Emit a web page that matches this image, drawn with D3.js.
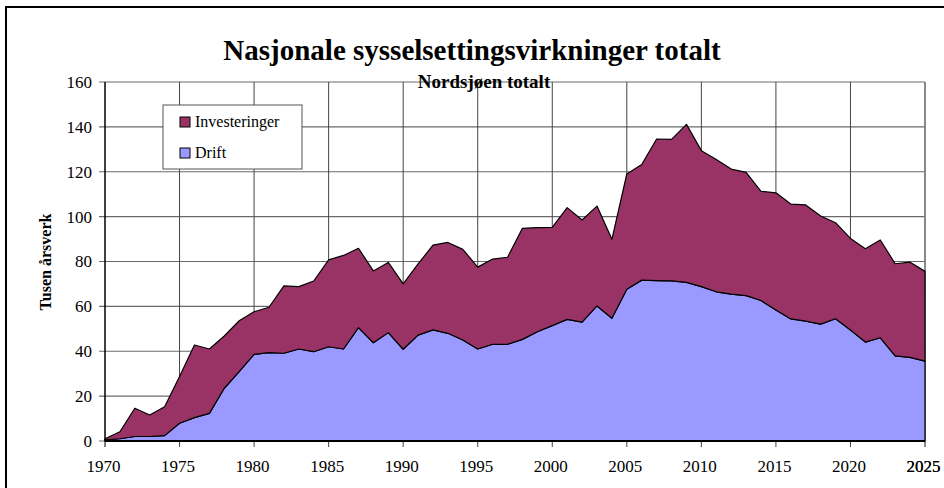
<!DOCTYPE html>
<html>
<head>
<meta charset="utf-8">
<script src="https://cdn.jsdelivr.net/npm/d3@7"></script>
<style>
  body { margin: 0; background: #fff; }
  svg { display: block; font-family: "Liberation Serif", "Times New Roman", serif; }
</style>
</head>
<body>
<svg width="944" height="488"></svg>
<script>
// values (tusen årsverk)
var years = d3.range(1970, 2026)
var drift = [0.5, 1, 2, 2, 2.4, 7.9, 10.4, 12.3, 23.5, 30.9,
    38.6, 39.4, 39.1, 41, 39.8, 42, 41, 50.5, 43.8, 48.3,
    40.9, 47.2, 49.5, 48, 45, 41, 43.1, 43.1, 45.3, 48.7,
    51.4, 54.2, 53, 60.2, 54.7, 67.6, 71.7, 71.5, 71.4, 70.7,
    68.8, 66.5, 65.5, 64.8, 62.6, 58.4, 54.4, 53.4, 52.1, 54.5,
    49.5, 44.1, 46, 37.9, 37.3, 35.6]
var investeringer = [0.5, 3.1, 12.6, 9.6, 12.9, 20.8, 32.4, 28.7, 23.3, 22.7,
    19, 20.2, 30, 27.8, 31.5, 38.7, 41.7, 35.4, 32, 31.3,
    29.1, 31.7, 37.8, 40.5, 40.4, 36.5, 38, 38.8, 49.5, 46.4,
    43.8, 49.8, 45.5, 44.5, 35.2, 51.4, 51.5, 63.1, 63, 70.4,
    60.6, 59, 55.7, 54.9, 48.7, 52.2, 51.2, 51.8, 48.2, 42.8,
    40.8, 41.6, 43.6, 41.1, 42.4, 40]
var seriesNames = ["Drift", "Investeringer"]
var seriesColors = {"Drift": "#9999ff", "Investeringer": "#993366"}
var yTicks = d3.range(0, 161, 20)
var xTicks = d3.range(1970, 2026, 5)

var svg = d3.select("svg")
var margin = {left: 105, right: 19, top: 82, bottom: 47}
var width = 944 - margin.left - margin.right,
    height = 488 - margin.top - margin.bottom

// outer frame (right and bottom edges fall at / past the picture edge)
svg.append("rect")
    .attr("x", 6).attr("y", 7)
    .attr("width", 939).attr("height", 492)
    .style("fill", "none").style("stroke", "#000").style("stroke-width", 2)

var x = d3.scaleLinear().domain([1970, 2025]).range([0, width])
var y = d3.scaleLinear().domain([0, 160]).range([height, 0])

var g = svg.append("g").attr("transform", "translate(" + margin.left + "," + margin.top + ")")

var table = years.map(function (yr, i) {
    return {year: yr, Drift: drift[i], Investeringer: investeringer[i]}
})
var stacked = d3.stack().keys(seriesNames)(table)

// grid
g.append("g").selectAll("line")
    .data(yTicks)
    .enter().append("line")
    .attr("x1", -6).attr("x2", width)
    .attr("y1", d => y(d)).attr("y2", d => y(d))
    .style("stroke", "#6a6a6a").style("stroke-width", 1.2)
g.append("g").selectAll("line")
    .data(xTicks.slice(1))
    .enter().append("line")
    .attr("x1", d => x(d)).attr("x2", d => x(d))
    .attr("y1", 0).attr("y2", height + 6)
    .style("stroke", "#444").style("stroke-width", 1)
g.append("line")
    .attr("x1", width).attr("x2", width).attr("y1", 0).attr("y2", height + 6)
    .style("stroke", "#808080").style("stroke-width", 1.5)

var area = d3.area()
    .x(d => x(d.data.year))
    .y0(d => y(d[0]))
    .y1(d => y(d[1]))

g.selectAll(".layer")
    .data(stacked)
    .enter().append("path")
    .attr("class", "layer")
    .attr("d", area)
    .style("fill", d => seriesColors[d.key])
    .style("stroke", "#000")
    .style("stroke-width", 1.2)
    .style("stroke-linejoin", "round")

// axes lines
g.append("line")
    .attr("x1", 0).attr("x2", 0).attr("y1", 0).attr("y2", height)
    .style("stroke", "#000").style("stroke-width", 1.5)
g.append("line")
    .attr("x1", 0).attr("x2", width).attr("y1", height).attr("y2", height)
    .style("stroke", "#000").style("stroke-width", 2)
g.append("line")
    .attr("x1", 0).attr("x2", 0).attr("y1", height).attr("y2", height + 6)
    .style("stroke", "#000").style("stroke-width", 1)

// tick labels
g.append("g").selectAll("text")
    .data(yTicks)
    .enter().append("text")
    .attr("x", -13).attr("y", d => y(d))
    .attr("dy", "0.35em")
    .attr("text-anchor", "end")
    .style("font-size", "17px")
    .text(d => d)
g.append("g").selectAll("text")
    .data(xTicks.concat([2025]))
    .enter().append("text")
    .attr("x", d => x(d) - 1.5).attr("y", height + 31)
    .attr("text-anchor", "middle")
    .style("font-size", "17px")
    .text(d => d)

// titles
svg.append("text")
    .attr("x", 472).attr("y", 60)
    .attr("text-anchor", "middle")
    .style("font-size", "29px").style("font-weight", "bold")
    .text("Nasjonale sysselsettingsvirkninger totalt")
svg.append("text")
    .attr("x", 484).attr("y", 88)
    .attr("text-anchor", "middle")
    .style("font-size", "19px").style("font-weight", "bold")
    .text("Nordsjøen totalt")
svg.append("text")
    .attr("transform", "translate(51,262) rotate(-90)")
    .attr("text-anchor", "middle")
    .style("font-size", "16px").style("font-weight", "bold")
    .text("Tusen årsverk")

// legend
var legend = svg.append("g").attr("transform", "translate(163,105)")
legend.append("rect")
    .attr("width", 139).attr("height", 64)
    .style("fill", "#fff").style("stroke", "#555").style("stroke-width", 1)
var items = legend.selectAll(".item")
    .data(["Investeringer", "Drift"])
    .enter().append("g")
    .attr("class", "item")
    .attr("transform", (d, i) => "translate(0," + (i * 31) + ")")
items.append("rect")
    .attr("x", 17).attr("y", 12)
    .attr("width", 10).attr("height", 10)
    .style("fill", d => seriesColors[d])
    .style("stroke", "#000").style("stroke-width", 1)
items.append("text")
    .attr("x", 32).attr("y", 22)
    .style("font-size", "16px")
    .text(d => d)
</script>
</body>
</html>
